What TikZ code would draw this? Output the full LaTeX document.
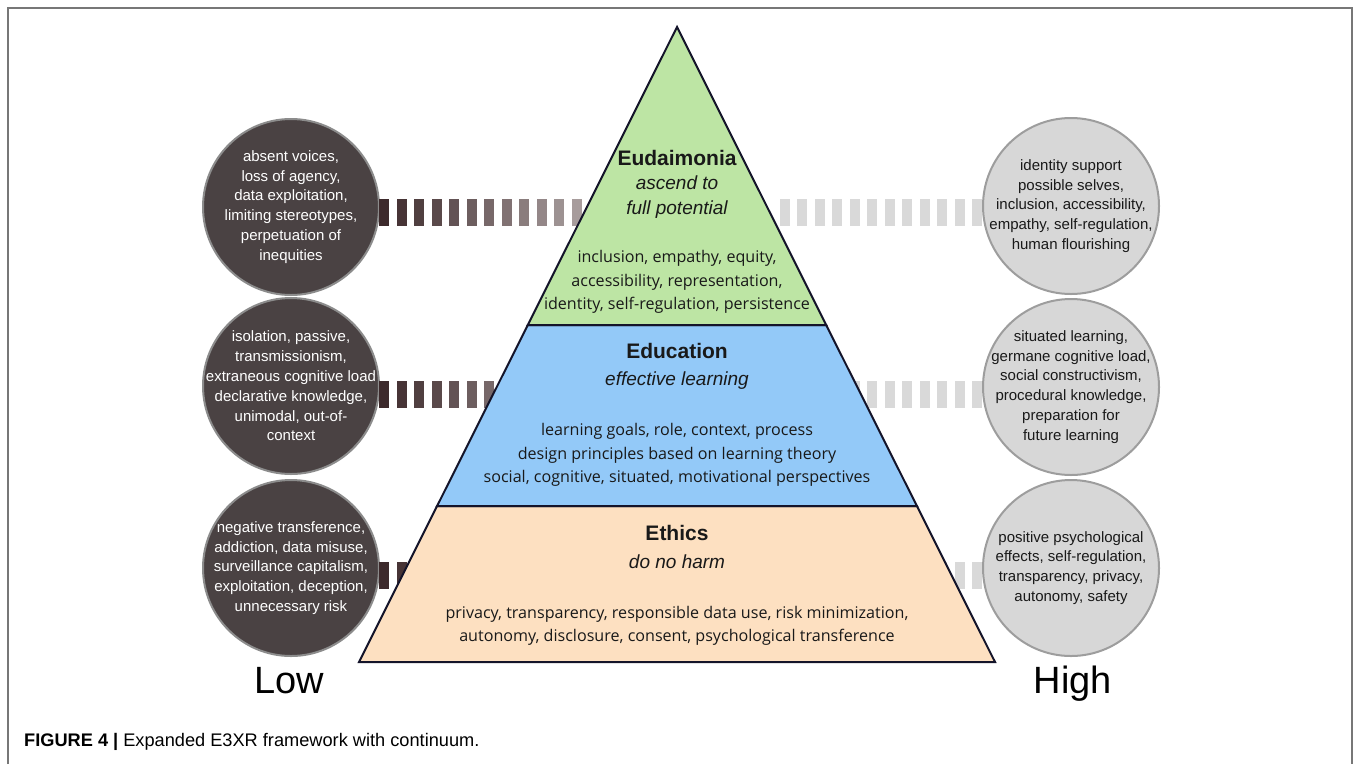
\documentclass[tikz,border=0pt]{standalone}
\usepackage{fontspec}
\setmainfont{Liberation Sans}
\newfontfamily\bodyfont{Open Sans}
\usepackage{tikz}

\definecolor{topgreen}{HTML}{BDE5A4}
\definecolor{midblue}{HTML}{93C9F8}
\definecolor{basepeach}{HTML}{FDE0C1}
\definecolor{lowfill}{HTML}{4A4243}
\definecolor{highfill}{HTML}{D7D7D7}
\definecolor{ringgray}{HTML}{8C8C8C}
\definecolor{dashdark}{HTML}{3D2A2C}
\definecolor{dashlight}{HTML}{A89D9D}
\definecolor{dashgray}{HTML}{D9D9D9}
\definecolor{framegray}{HTML}{777777}
\definecolor{edgeink}{HTML}{14142A}

\begin{document}
\begin{tikzpicture}[x=1pt,y=-1pt,
    lowcircle/.style={circle,draw=ringgray,line width=2pt,fill=lowfill,text=white,
        minimum size=176pt,inner sep=-30pt,align=center,font=\fontsize{15}{19.8}\selectfont},
    highcircle/.style={lowcircle,fill=highfill,draw=ringgray!85,text=black!90},
    layer/.style={fill=#1,draw=edgeink,line width=2pt},
    layertitle/.style={font=\fontsize{21}{25}\selectfont\bfseries,text=black!90},
    layersub/.style={align=center,font=\fontsize{19}{25}\selectfont\itshape,text=black!90},
    layerlist/.style={align=center,font=\bodyfont\fontsize{16.1}{23.5}\selectfont,text=black!90},
    endlabel/.style={anchor=base,font=\fontsize{38}{40}\selectfont}]
    \useasboundingbox (0,0) rectangle (1356,764);
    % Frame
    \draw[framegray,line width=1.5pt] (8,764) -- (8,8) -- (1352,8) -- (1352,764);
    % Circles
    \node[lowcircle] (lowA) at (291,207) {absent voices,\\loss of agency,\\data exploitation,\\limiting stereotypes,\\perpetuation of\\inequities};
    \node[lowcircle] (lowB) at (291,386) {isolation, passive,\\transmissionism,\\extraneous cognitive load\\declarative knowledge,\\unimodal, out-of-\\context};
    \node[lowcircle] (lowC) at (291,568) {negative transference,\\addiction, data misuse,\\surveillance capitalism,\\exploitation, deception,\\unnecessary risk};
    \node[highcircle] (highA) at (1071,206) {identity support\\possible selves,\\inclusion, accessibility,\\empathy, self-regulation,\\human flourishing};
    \node[highcircle] (highB) at (1071,387) {situated learning,\\germane cognitive load,\\social constructivism,\\procedural knowledge,\\preparation for\\future learning};
    \node[highcircle] (highC) at (1071,568) {positive psychological\\effects, self-regulation,\\transparency, privacy,\\autonomy, safety};
    % Dashes
    \foreach \y in {212,394,575} {
        \foreach \k in {0,...,11} {
            \pgfmathsetmacro\pct{100-\k*9}
            \fill[dashdark!\pct!dashlight] (379+\k*17.5,\y-13.5) rectangle ++(10,27);
            \fill[dashgray] (972-\k*17.5,\y-13.5) rectangle ++(10,27);
        }
    }
    % Pyramid
    \coordinate (apex) at (677,27);
    \coordinate (topL) at (527.8,325);
    \coordinate (topR) at (826.2,325);
    \coordinate (midL) at (437.1,506);
    \coordinate (midR) at (916.9,506);
    \coordinate (baseL) at (359,662);
    \coordinate (baseR) at (995,662);
    \draw[layer=basepeach] (baseL) -- (baseR) -- (midR) -- (midL) -- cycle;
    \draw[layer=midblue] (midL) -- (midR) -- (topR) -- (topL) -- cycle;
    \draw[layer=topgreen] (topL) -- (topR) -- (apex) -- cycle;
    % Labels
    \node[layertitle] (eudTitle) at (677,158) {Eudaimonia};
    \node[layersub] (eudSub) at (677,197) {ascend to\\full potential};
    \node[layerlist] (eudList) at (677,282) {inclusion, empathy, equity,\\accessibility, representation,\\identity, self-regulation, persistence};
    \node[layertitle] (eduTitle) at (677,351) {Education};
    \node[layersub] (eduSub) at (677,381) {effective learning};
    \node[layerlist] (eduList) at (677,455) {learning goals, role, context, process\\design principles based on learning theory\\social, cognitive, situated, motivational perspectives};
    \node[layertitle] (ethTitle) at (677,533) {Ethics};
    \node[layersub] (ethSub) at (677,562) {do no harm};
    \node[layerlist] (ethList) at (677,626) {privacy, transparency, responsible data use, risk minimization,\\autonomy, disclosure, consent, psychological transference};
    \node[endlabel] (low) at (289,693) {Low};
    \node[endlabel] (high) at (1073,693) {High};
    % Caption
    \node[anchor=west,font=\fontsize{18.2}{20}\selectfont,inner sep=0pt] (caption) at (24,742)
        {\textbf{FIGURE 4 |} Expanded E3XR framework with continuum.};
\end{tikzpicture}
\end{document}
